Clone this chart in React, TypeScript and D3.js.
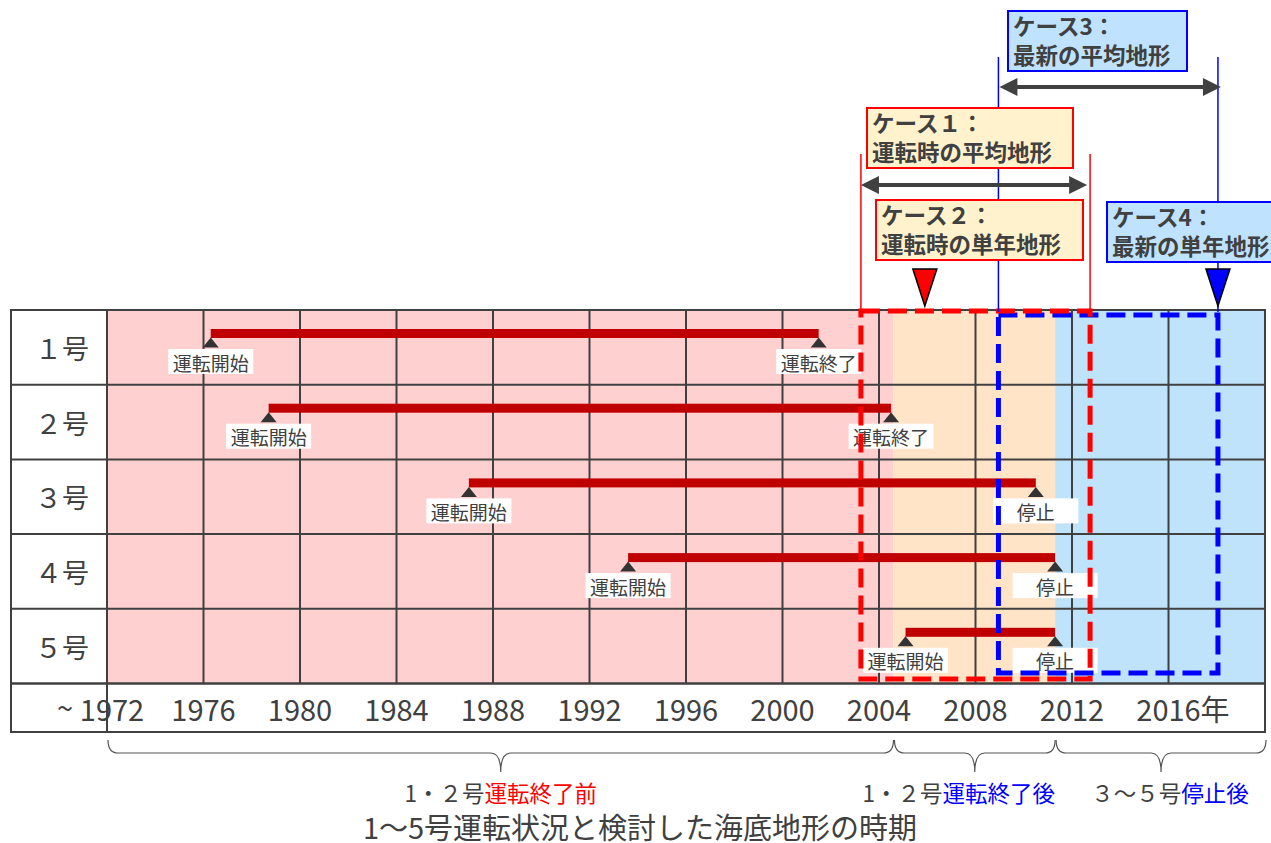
import React from 'react';
import * as d3 from 'd3';

// ---------- data ----------
const units = ['１号', '２号', '３号', '４号', '５号'];
const startYears = [1976.3, 1978.7, 1987.0, 1993.6, 2005.1];
const endYears = [2001.5, 2004.5, 2010.5, 2011.3, 2011.3];
const startLabels = ['運転開始', '運転開始', '運転開始', '運転開始', '運転開始'];
const endLabels = ['運転終了', '運転終了', '停止', '停止', '停止'];

const tickYears = [1972, 1976, 1980, 1984, 1988, 1992, 1996, 2000, 2004, 2008, 2012, 2016];
const tickLabels = ['1972', '1976', '1980', '1984', '1988', '1992', '1996', '2000', '2004', '2008', '2012', '2016'];

const phaseStarts = [1972, 2004.6, 2011.3];
const phaseEnds = [2004.6, 2011.3, 2020];
const phaseColors = ['#FFD0D0', '#FFE4C8', '#BEE3FB'];
const phasePrefix = ['1・２号', '1・２号', '３～５号'];
const phaseSuffix = ['運転終了前', '運転終了後', '停止後'];
const phaseSuffixColors = ['#FF0000', '#0000FF', '#0000FF'];

const case1Range = [2003.25, 2012.75];
const case3Range = [2008.95, 2018.05];
const case2Year = 2005.9;
const case4Year = 2018.05;

const title = '1～5号運転状況と検討した海底地形の時期';

const FONT = "'Noto Sans CJK JP', 'Noto Sans', sans-serif";
const TXT = '#404040';

export default function App() {
  const W = 1271, H = 843;
  const tableLeft = 11;
  const x = d3.scaleLinear().domain([1972, 2020]).range([107, 1265]);
  const y = d3.scaleBand<string>().domain(units).range([310, 683.5]).paddingInner(0);
  const rowH = y.bandwidth();
  const gridTop = 310, gridBottom = 683.5, axisBottom = 732;
  const right = x(2020);

  const brace = (x0: number, x1: number, top: number, mid: number, tip: number) => {
    const xc = (x0 + x1) / 2;
    const r = 10;
    return `M${x0},${top} Q${x0},${mid} ${x0 + r},${mid} L${xc - r},${mid} Q${xc},${mid} ${xc},${tip} Q${xc},${mid} ${xc + r},${mid} L${x1 - r},${mid} Q${x1},${mid} ${x1},${top}`;
  };

  const arrow = (x0: number, x1: number, yy: number) => {
    const hl = 18, hh = 9;
    return (
      <g>
        <line x1={x0 + hl - 2} x2={x1 - hl + 2} y1={yy} y2={yy} stroke={TXT} strokeWidth={4} />
        <path d={`M${x0},${yy} L${x0 + hl},${yy - hh} L${x0 + hl},${yy + hh} Z`} fill={TXT} />
        <path d={`M${x1},${yy} L${x1 - hl},${yy - hh} L${x1 - hl},${yy + hh} Z`} fill={TXT} />
      </g>
    );
  };

  const caseBox = (bx: number, by: number, bw: number, line1: string, line2: string, fill: string, stroke: string) => (
    <g>
      <rect x={bx} y={by} width={bw} height={60} fill={fill} stroke={stroke} strokeWidth={2} />
      <text x={bx + 5} y={by + 24} fontFamily={FONT} fontWeight="bold" fontSize={22.5} fill={TXT}>{line1}</text>
      <text x={bx + 5} y={by + 53} fontFamily={FONT} fontWeight="bold" fontSize={22.5} fill={TXT}>{line2}</text>
    </g>
  );

  const labelBox = (cx: number, rowTop: number, label: string, key: string) => (
    <g key={key}>
      <rect x={cx - 42.5} y={rowTop + 39} width={85} height={25} fill="#FFFFFF" />
      <text x={cx} y={rowTop + 52} textAnchor="middle" dominantBaseline="central" fontFamily={FONT} fontSize={19} fill={TXT}>{label}</text>
    </g>
  );

  const tri = (cx: number, rowTop: number, key: string) => (
    <path key={key} d={`M${cx},${rowTop + 27.5} L${cx + 8},${rowTop + 37.5} L${cx - 8},${rowTop + 37.5} Z`} fill="#333333" />
  );

  return (
    <svg width={W} height={H} style={{ position: 'absolute', left: 0, top: 0 }} xmlns="http://www.w3.org/2000/svg">
      <rect x={0} y={0} width={W} height={H} fill="#FFFFFF" />

      {/* phase backgrounds */}
      {phaseStarts.map((s, i) => (
        <rect key={'ph' + i} x={x(s)} y={gridTop} width={x(phaseEnds[i]) - x(s)} height={gridBottom - gridTop} fill={phaseColors[i]} />
      ))}

      {/* grid */}
      {tickYears.map((t, i) => (
        <line key={'vg' + i} x1={x(t)} x2={x(t)} y1={gridTop} y2={i === 0 ? axisBottom : gridBottom} stroke="#404040" strokeWidth={2} />
      ))}
      {units.map((u, i) => (
        <line key={'hg' + i} x1={tableLeft} x2={right} y1={y(u)!} y2={y(u)!} stroke="#404040" strokeWidth={2} />
      ))}
      <line x1={tableLeft} x2={right} y1={gridBottom} y2={gridBottom} stroke="#404040" strokeWidth={2.5} />
      <rect x={tableLeft} y={gridTop} width={right - tableLeft} height={axisBottom - gridTop} fill="none" stroke="#404040" strokeWidth={2} />

      {/* row labels */}
      {units.map((u) => (
        <text key={'rl' + u} x={62} y={y(u)! + rowH / 2} textAnchor="middle" dominantBaseline="central" fontFamily={FONT} fontSize={27} fill={TXT}>{u}</text>
      ))}

      {/* axis labels */}
      {tickYears.map((t, i) => (
        <text key={'tl' + i} x={x(t) + (i === 0 ? 5 : 0)} y={708} textAnchor="middle" dominantBaseline="central" fontFamily={FONT} fontSize={29} fill={TXT}>
          {tickLabels[i]}
        </text>
      ))}
      <text x={x(1972) - 34} y={706} textAnchor="end" dominantBaseline="central" fontFamily={FONT} fontSize={29} fill={TXT}>~</text>
      <text x={x(2016) + 32} y={708} textAnchor="start" dominantBaseline="central" fontFamily={FONT} fontSize={29} fill={TXT}>年</text>

      {/* operation bars */}
      {units.map((u, i) => {
        const top = y(u)!;
        return (
          <g key={'bar' + i}>
            <rect x={x(startYears[i])} y={top + 19} width={x(endYears[i]) - x(startYears[i])} height={9} fill="#C00000" />
            {tri(x(startYears[i]), top, 'ts' + i)}
            {tri(x(endYears[i]), top, 'te' + i)}
            {labelBox(x(startYears[i]), top, startLabels[i], 'ls' + i)}
            {labelBox(x(endYears[i]), top, endLabels[i], 'le' + i)}
          </g>
        );
      })}

      {/* dashed case rectangles */}
      <rect x={x(case3Range[0])} y={315} width={x(case3Range[1]) - x(case3Range[0])} height={673 - 315} fill="none" stroke="#0000FF" strokeWidth={5} strokeDasharray="19,8" />
      <rect x={x(case1Range[0])} y={311} width={x(case1Range[1]) - x(case1Range[0])} height={679 - 311} fill="none" stroke="#FF0000" strokeWidth={5} strokeDasharray="19,8" />

      {/* thin guide lines */}
      <line x1={x(case3Range[0])} x2={x(case3Range[0])} y1={57} y2={312} stroke="#0000FF" strokeWidth={1.5} />
      <line x1={x(case3Range[1])} x2={x(case3Range[1])} y1={57} y2={312} stroke="#0000FF" strokeWidth={1.5} />
      <line x1={x(case1Range[0])} x2={x(case1Range[0])} y1={154} y2={312} stroke="#FF0000" strokeWidth={1.5} />
      <line x1={x(case1Range[1])} x2={x(case1Range[1])} y1={154} y2={312} stroke="#FF0000" strokeWidth={1.5} />

      {/* case boxes */}
      {caseBox(1008, 11, 179, 'ケース3：', '最新の平均地形', '#BFE3FF', '#0000FF')}
      {arrow(x(case3Range[0]) + 1, x(case3Range[1]) + 3, 87)}
      {caseBox(867, 108, 206, 'ケース１：', '運転時の平均地形', '#FFF2CC', '#FF0000')}
      {arrow(x(case1Range[0]), x(case1Range[1]) - 3, 185)}
      {caseBox(876, 200, 207, 'ケース２：', '運転時の単年地形', '#FFF2CC', '#FF0000')}
      {caseBox(1107, 202, 200, 'ケース4：', '最新の単年地形', '#BFE3FF', '#0000FF')}

      {/* markers */}
      <path d={`M${x(case2Year)},306 L${x(case2Year) + 12},269 L${x(case2Year) - 12},269 Z`} fill="#FF0000" stroke="#000000" strokeWidth={1.5} />
      <path d={`M${x(case4Year)},306 L${x(case4Year) + 12},269 L${x(case4Year) - 12},269 Z`} fill="#0000FF" stroke="#000000" strokeWidth={1.5} />

      {/* braces */}
      {phaseStarts.map((s, i) => {
        const x0 = x(s) + 1, x1 = x(phaseEnds[i]) + (i === 2 ? 1 : 0);
        const xc = (x0 + x1) / 2;
        const dx = [0, -16, 9][i];
        return (
          <g key={'br' + i}>
            <path d={brace(x0, x1, 740, 753, 772)} fill="none" stroke="#555555" strokeWidth={1.2} />
            <text x={xc + dx} y={792} textAnchor="middle" dominantBaseline="central" fontFamily={FONT} fontSize={22.5} fill={TXT}>
              {phasePrefix[i]}
              <tspan fill={phaseSuffixColors[i]}>{phaseSuffix[i]}</tspan>
            </text>
          </g>
        );
      })}

      <text x={640} y={826} textAnchor="middle" dominantBaseline="central" fontFamily={FONT} fontSize={29} fill={TXT}>{title}</text>
    </svg>
  );
}
